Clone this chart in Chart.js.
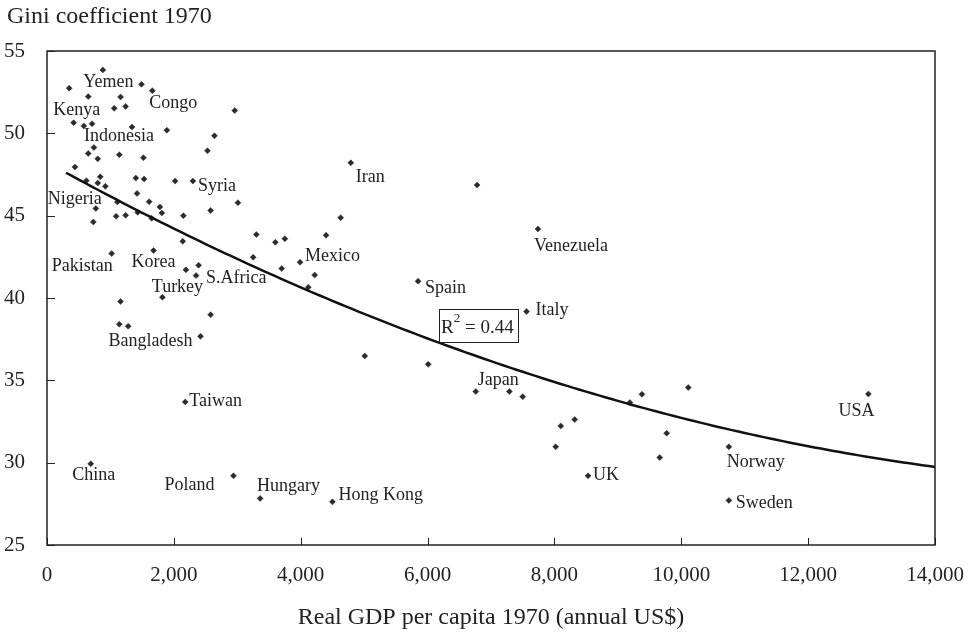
<!DOCTYPE html>
<html>
<head>
<meta charset="utf-8">
<script src="https://cdn.jsdelivr.net/npm/chart.js@4.4.1/dist/chart.umd.min.js"></script>
<style>
html, body { margin: 0; padding: 0; background: #fff; }
</style>
</head>
<body>
<canvas id="chart" width="973" height="635"></canvas>
<script>
// values
const gdp = [
  350, 880, 1490, 1660, 650, 1160, 1060, 1240, 2960, 420,
  580, 710, 1340, 1890, 2640, 740, 650, 800, 1140, 1520,
  2530, 440, 620, 840, 800, 920, 1400, 1530, 2020, 2300,
  3010, 1420, 1610, 1110, 770, 1780, 1810, 2580, 1090, 1240,
  1430, 2150, 730, 1650, 2140, 3300, 3600, 3750, 3990, 3250,
  3700, 1020, 1680, 2190, 2390, 2350, 1160, 1820, 2580, 1140,
  1280, 2420, 4790, 4630, 4400, 4220, 4120, 5850, 6780, 7740,
  7560, 6010, 6760, 7290, 7500, 9380, 10110, 5010, 9190, 12950,
  8100, 8320, 8020, 9770, 9660, 10750, 8530, 10750, 2180, 690,
  2940, 3360, 4500
]
const gini = [
  52.74, 53.85, 52.98, 52.59, 52.23, 52.21, 51.52, 51.63, 51.38, 50.65,
  50.45, 50.58, 50.38, 50.19, 49.85, 49.14, 48.78, 48.45, 48.70, 48.52,
  48.94, 47.95, 47.12, 47.36, 46.98, 46.78, 47.28, 47.22, 47.10, 47.10,
  45.79, 46.35, 45.85, 45.83, 45.44, 45.53, 45.16, 45.32, 44.96, 45.02,
  45.20, 45.00, 44.62, 44.84, 43.44, 43.85, 43.38, 43.60, 42.17, 42.47,
  41.79, 42.70, 42.88, 41.71, 41.99, 41.36, 39.79, 40.05, 38.98, 38.41,
  38.29, 37.67, 48.21, 44.88, 43.81, 41.39, 40.65, 41.02, 46.86, 44.19,
  39.18, 35.97, 34.32, 34.32, 34.01, 34.15, 34.56, 36.48, 33.65, 34.17,
  32.23, 32.62, 30.96, 31.79, 30.31, 30.96, 29.20, 27.71, 33.69, 29.93,
  29.20, 27.83, 27.62
]
const country = [
  'Yemen', '', '', 'Congo', '', '', '', '', '', 'Kenya',
  '', '', '', '', '', 'Indonesia', '', '', '', '',
  '', '', '', '', '', '', '', '', '', 'Syria',
  '', '', '', '', 'Nigeria', '', '', '', '', '',
  '', '', '', '', '', '', '', '', 'Mexico', '',
  '', 'Pakistan', 'Korea', '', '', 'S.Africa', '', 'Turkey', '', '',
  '', 'Bangladesh', 'Iran', '', '', '', '', 'Spain', '', 'Venezuela',
  'Italy', '', 'Japan', '', '', '', '', '', '', 'USA',
  '', '', '', '', '', 'Norway', 'UK', 'Sweden', 'Taiwan', 'China',
  'Poland', 'Hungary', 'Hong Kong'
]
const xTicks = [0, 2000, 4000, 6000, 8000, 10000, 12000, 14000]
const yTicks = [25, 30, 35, 40, 45, 50, 55]
const yTitle = 'Gini coefficient 1970'
const xTitle = 'Real GDP per capita 1970 (annual US$)'
const r2 = '0.44'
// polynomial trend as printed in the source (x in thousand US$): a + b*x + c*x^2
const trendCoef = [48.24, -2.129, 0.0577]
const trendFrom = 300

// where each country name sits relative to its marker: [dx, dy, align]
const labelPlace = {
  'Yemen': [14, -6, 'left'], 'Kenya': [3, -12, 'center'], 'Congo': [-3, 13, 'left'],
  'Indonesia': [25, -11, 'center'], 'Syria': [5, 5, 'left'], 'Nigeria': [6, -9, 'right'],
  'Iran': [5, 14, 'left'], 'Pakistan': [1, 13, 'right'], 'Korea': [0, 12, 'center'],
  'Mexico': [5, -6, 'left'], 'S.Africa': [10, 3, 'left'], 'Turkey': [15, -10, 'center'],
  'Spain': [7, 7, 'left'], 'Venezuela': [-4, 17, 'left'], 'Italy': [9, -1, 'left'],
  'Bangladesh': [-8, 5, 'right'], 'Japan': [2, -11, 'left'], 'Taiwan': [4, -1, 'left'],
  'USA': [-12, 17, 'center'], 'China': [3, 11, 'center'], 'UK': [5, -1, 'left'],
  'Norway': [-2, 15, 'left'], 'Poland': [-19, 9, 'right'], 'Hungary': [-3, -12, 'left'],
  'Hong Kong': [6, -7, 'left'], 'Sweden': [7, 3, 'left']
}

const serif = '"Liberation Serif", "Times New Roman", serif'
const ink = '#222'

const trend = []
for (let v = trendFrom; v <= 14000; v += 100) {
  const x = v / 1000
  trend.push({ x: v, y: trendCoef[0] + trendCoef[1] * x + trendCoef[2] * x * x })
}

const decor = {
  id: 'decor',
  afterDatasetsDraw(chart) {
    const { ctx } = chart
    const meta = chart.getDatasetMeta(1)
    ctx.save()
    ctx.fillStyle = ink
    ctx.font = '18px ' + serif
    ctx.textBaseline = 'middle'
    country.forEach((name, i) => {
      if (!name) return
      const el = meta.data[i]
      const [dx, dy, align] = labelPlace[name]
      ctx.textAlign = align
      ctx.fillText(name, el.x + dx, el.y + dy)
    })
    ctx.restore()
  },
  afterDraw(chart) {
    const { ctx, chartArea: a, scales } = chart
    ctx.save()
    ctx.strokeStyle = ink
    ctx.lineWidth = 1.5
    ctx.strokeRect(a.left, a.top, a.right - a.left, a.bottom - a.top)
    ctx.lineWidth = 1
    ctx.beginPath()
    xTicks.forEach(v => {
      const px = Math.round(scales.x.getPixelForValue(v)) + 0.5
      ctx.moveTo(px, a.bottom); ctx.lineTo(px, a.bottom - 7)
    })
    yTicks.forEach(v => {
      const py = Math.round(scales.y.getPixelForValue(v)) + 0.5
      ctx.moveTo(a.left, py); ctx.lineTo(a.left + 8, py)
    })
    ctx.stroke()

    ctx.fillStyle = ink
    ctx.textBaseline = 'alphabetic'
    ctx.textAlign = 'left'
    ctx.font = '24px ' + serif
    ctx.fillText(yTitle, 7, 23)

    // R-squared box
    const bx = a.left + 392, by = a.top + 258, bw = 79, bh = 33
    ctx.lineWidth = 1
    ctx.strokeRect(bx + 0.5, by + 0.5, bw, bh)
    ctx.font = '19px ' + serif
    ctx.fillText('R', bx + 2, by + 24)
    const rw = ctx.measureText('R').width
    ctx.font = '13px ' + serif
    ctx.fillText('2', bx + 2 + rw, by + 13)
    const sw = ctx.measureText('2').width
    ctx.font = '19px ' + serif
    ctx.fillText(' = ' + r2, bx + 2 + rw + sw, by + 24)
    ctx.restore()
  }
}

new Chart(document.getElementById('chart'), {
  type: 'scatter',
  data: {
    datasets: [
      {
        type: 'line',
        data: trend,
        borderColor: '#111',
        borderWidth: 2.5,
        pointRadius: 0,
        tension: 0,
        fill: false
      },
      {
        data: gdp.map((x, i) => ({ x, y: gini[i] })),
        pointStyle: 'rectRot',
        pointRadius: 3,
        backgroundColor: '#2b2b2b',
        borderColor: '#2b2b2b',
        borderWidth: 0.5
      }
    ]
  },
  options: {
    responsive: false,
    animation: false,
    devicePixelRatio: 1,
    layout: { padding: { top: 51, right: 38, left: 0, bottom: 0 } },
    plugins: { legend: { display: false }, tooltip: { enabled: false } },
    scales: {
      x: {
        type: 'linear', min: 0, max: 14000,
        afterBuildTicks: s => { s.ticks = xTicks.map(value => ({ value })) },
        afterFit: s => { s.height = 90; s.paddingRight = 0; s.paddingLeft = 0 },
        grid: { display: false },
        border: { display: false },
        ticks: {
          color: ink, padding: 10, maxRotation: 0, autoSkip: false,
          font: { family: serif, size: 21 },
          callback: v => v.toLocaleString('en-US')
        },
        title: {
          display: true, text: xTitle, color: ink,
          font: { family: serif, size: 24 },
          padding: { top: 0, bottom: 3 }
        }
      },
      y: {
        min: 25, max: 55,
        afterBuildTicks: s => { s.ticks = yTicks.map(value => ({ value })) },
        afterFit: s => { s.width = 47 },
        grid: { display: false },
        border: { display: false },
        ticks: { color: ink, padding: 14, font: { family: serif, size: 21 } }
      }
    }
  },
  plugins: [decor]
})
</script>
</body>
</html>
